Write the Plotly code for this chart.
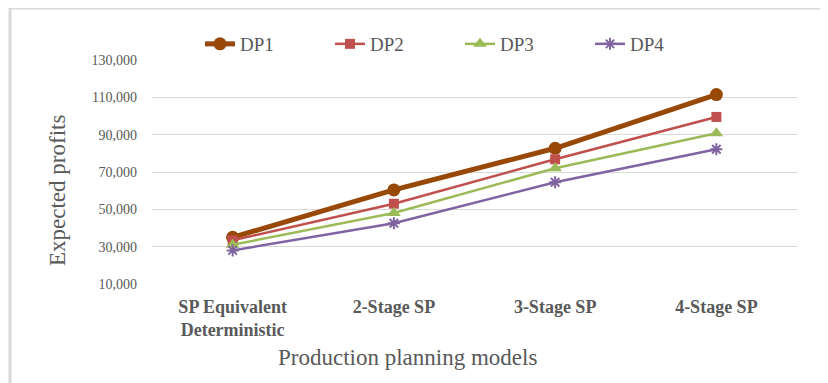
import plotly.graph_objects as go

categories = ["SP Equivalent<br>Deterministic", "2-Stage SP", "3-Stage SP", "4-Stage SP"]
dp1 = [35000, 60400, 82700, 111500]
dp2 = [33400, 53000, 76800, 99500]
dp3 = [31000, 48000, 72000, 90800]
dp4 = [28000, 42500, 64500, 82200]
y_ticks = [10000, 30000, 50000, 70000, 90000, 110000, 130000]

series = [
    ("DP1", dp1, "#984807", 5, "circle", 13),
    ("DP2", dp2, "#C0504D", 2.5, "square", 10),
    ("DP3", dp3, "#9BBB59", 2.5, "triangle-up", 12),
    ("DP4", dp4, "#8064A2", 2.5, "asterisk-open", 10),
]

fig = go.Figure()
for name, vals, color, w, sym, sz in series:
    fig.add_trace(go.Scatter(
        x=categories, y=vals, name=name, mode="lines+markers",
        line=dict(color=color, width=w),
        marker=dict(symbol=sym, size=sz, color=color,
                    line=dict(color=color, width=2 if sym == "asterisk-open" else 0)),
    ))

font_serif = "Liberation Serif, Times New Roman, serif"
grey = "#595959"

OFF = 8  # page body margin
W, H = 828, 383
L, T = 152 - OFF, 60 - OFF
R = W - (797 - OFF)
B = H - (284 - OFF)
pw, ph = W - L - R, H - T - B

def px(x):
    return (x - OFF - L) / pw

def py(y):
    return 1 - (y - OFF - T) / ph

fig.update_layout(
    width=W, height=H,
    margin=dict(l=L, r=R, t=T, b=B, autoexpand=False),
    paper_bgcolor="white", plot_bgcolor="white",
    font=dict(family=font_serif, color=grey),
    showlegend=True,
    legend=dict(orientation="h", x=px(200), xanchor="left", y=py(44), yanchor="middle",
                font=dict(size=19, color=grey), entrywidth=85, itemwidth=30,
                bgcolor="rgba(0,0,0,0)"),
    xaxis=dict(
        type="category", showgrid=False, zeroline=False, showline=False,
        tickfont=dict(family=font_serif, size=18, color=grey, weight="bold"),
        ticks="", ticklabelstandoff=10, range=[-0.5, 3.5],
    ),
    yaxis=dict(
        range=[10000, 130000], tickvals=y_ticks, tickformat=",",
        showgrid=True, gridcolor="#d9d9d9", gridwidth=1, zeroline=False, showline=False,
        tickfont=dict(family=font_serif, size=14, color=grey),
        ticks="", ticklabelstandoff=14,
    ),
    annotations=[
        dict(text="Production planning models", x=px(407), y=py(357), xref="paper", yref="paper",
             showarrow=False, font=dict(family=font_serif, size=23, color=grey),
             xanchor="center", yanchor="middle"),
        dict(text="Expected profits", x=px(57), y=py(190), xref="paper", yref="paper",
             showarrow=False, textangle=-90, font=dict(family=font_serif, size=23, color=grey),
             xanchor="center", yanchor="middle"),
    ],
    shapes=[
        dict(type="line", xref="paper", yref="paper", x0=px(10), x1=px(840), y0=py(8), y1=py(8),
             line=dict(color="#d9d9d9", width=3)),
        dict(type="line", xref="paper", yref="paper", x0=px(10), x1=px(10), y0=py(8), y1=py(400),
             line=dict(color="#d9d9d9", width=3)),
    ],
)

fig.write_html("out.html")
